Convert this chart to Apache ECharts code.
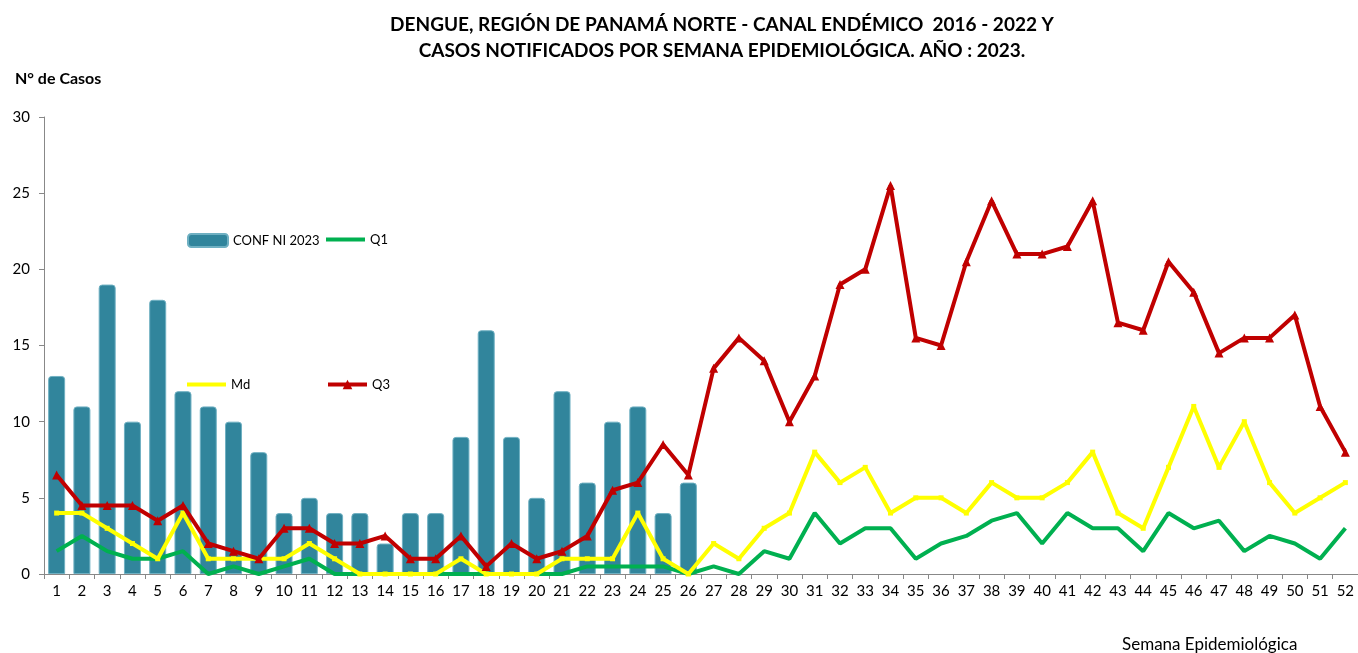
<!DOCTYPE html>
<html><head><meta charset="utf-8">
<script src="https://cdn.jsdelivr.net/npm/echarts@6/dist/echarts.min.js"></script>
<style>html,body{margin:0;padding:0;background:#fff}#c{width:1358px;height:653px}</style>
</head><body><div id="c"></div>
<script>
const weeks = ['1','2','3','4','5','6','7','8','9','10','11','12','13','14','15','16','17','18','19','20','21','22','23','24','25','26','27','28','29','30','31','32','33','34','35','36','37','38','39','40','41','42','43','44','45','46','47','48','49','50','51','52'];
const conf2023 = [13,11,19,10,18,12,11,10,8,4,5,4,4,2,4,4,9,16,9,5,12,6,10,11,4,6];
const q1 = [1.5,2.5,1.5,1,1,1.5,0,0.5,0,0.5,1,0,0,0,0,0,0,0,0,0,0,0.5,0.5,0.5,0.5,0,0.5,0,1.5,1,4,2,3,3,1,2,2.5,3.5,4,2,4,3,3,1.5,4,3,3.5,1.5,2.5,2,1,3];
const md = [4,4,3,2,1,4,1,1,1,1,2,1,0,0,0,0,1,0,0,0,1,1,1,4,1,0,2,1,3,4,8,6,7,4,5,5,4,6,5,5,6,8,4,3,7,11,7,10,6,4,5,6];
const q3 = [6.5,4.5,4.5,4.5,3.5,4.5,2,1.5,1,3,3,2,2,2.5,1,1,2.5,0.5,2,1,1.5,2.5,5.5,6,8.5,6.5,13.5,15.5,14,10,13,19,20,25.5,15.5,15,20.5,24.5,21,21,21.5,24.5,16.5,16,20.5,18.5,14.5,15.5,15.5,17,11,8];
const yTicks = [0,5,10,15,20,25,30];

const FONT = 'Lato, "Open Sans", sans-serif';
const chart = echarts.init(document.getElementById('c'), null, {renderer:'canvas'});
const legendBase = {orient:'horizontal', itemGap:4, textStyle:{fontFamily:FONT,fontSize:13,color:'#000'}, selectedMode:false, padding:0};
chart.setOption({
  animation:false,
  backgroundColor:'#fff',
  title:{
    text:'DENGUE, REGIÓN DE PANAMÁ NORTE - CANAL ENDÉMICO  2016 - 2022 Y\nCASOS NOTIFICADOS POR SEMANA EPIDEMIOLÓGICA. AÑO : 2023.',
    left:717, top:7, textAlign:'center',
    textStyle:{fontFamily:FONT,fontSize:19,fontWeight:'bold',color:'#000',lineHeight:26}
  },
  graphic:[
    {type:'text',left:15,top:71,style:{text:'N° de Casos',font:'bold 16px '+FONT,fill:'#000'}},
    {type:'text',left:1122,top:636,style:{text:'Semana Epidemiológica',font:'17px '+FONT,fill:'#000'}}
  ],
  legend:[
    Object.assign({},legendBase,{left:187,top:233,itemWidth:40,itemHeight:13,data:['CONF NI 2023']}),
    Object.assign({},legendBase,{left:326,top:233,itemWidth:39,itemHeight:4,data:[{name:'Q1',icon:'rect'}]}),
    Object.assign({},legendBase,{left:187,top:378,itemWidth:39,itemHeight:4,data:[{name:'Md',icon:'rect'}]}),
    Object.assign({},legendBase,{left:326,top:378,itemWidth:39,itemHeight:12,lineStyle:{width:4},data:['Q3']})
  ],
  grid:{left:44,top:117,width:1316,height:457,containLabel:false},
  xAxis:{
    type:'category', data:weeks, boundaryGap:true,
    axisLine:{lineStyle:{color:'#888',width:1}},
    axisTick:{show:true,alignWithLabel:false,length:5,lineStyle:{color:'#888'}},
    axisLabel:{fontFamily:FONT,fontSize:15,color:'#000',margin:10,interval:0}
  },
  yAxis:{
    type:'value', min:0, max:30, interval:5,
    axisLine:{show:true,lineStyle:{color:'#888',width:1}},
    axisTick:{show:true,length:5,lineStyle:{color:'#888'}},
    splitLine:{show:false},
    axisLabel:{fontFamily:FONT,fontSize:15,color:'#000',margin:14,
      formatter:v=>yTicks.includes(v)?String(v):''}
  },
  series:[
    {name:'CONF NI 2023',type:'bar',data:conf2023,barWidth:17,
      itemStyle:{color:'#31859C',borderRadius:[3,3,0,0],borderColor:'#6fb0c2',borderWidth:1},z:1},
    {name:'Q1',type:'line',data:q1,symbol:'none',lineStyle:{color:'#00B050',width:4},itemStyle:{color:'#00B050'},z:3},
    {name:'Md',type:'line',data:md,symbol:'rect',symbolSize:5,lineStyle:{color:'#FFFF00',width:4},itemStyle:{color:'#FFFF00'},z:4},
    {name:'Q3',type:'line',data:q3,symbol:'triangle',symbolSize:9,lineStyle:{color:'#C00000',width:4},itemStyle:{color:'#C00000'},z:5}
  ]
});
</script></body></html>
